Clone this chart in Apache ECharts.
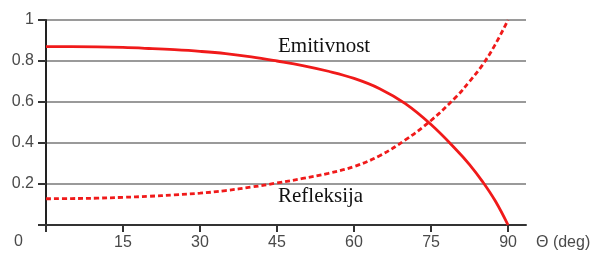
<!DOCTYPE html>
<html>
<head>
<meta charset="utf-8">
<script src="https://cdn.jsdelivr.net/npm/echarts@6/dist/echarts.min.js"></script>
<style>
  html, body { margin: 0; padding: 0; background: #fff; }
  #chart { width: 596px; height: 258px; }
</style>
</head>
<body>
<div id="chart"></div>
<script>
// angle (deg) and values
var angles = [0, 5, 10, 15, 20, 25, 30, 35, 40, 45, 50, 55, 60, 65, 70, 75, 80, 82.5, 85, 87.5, 90];
var emValues = [0.87, 0.87, 0.869, 0.866, 0.861, 0.855, 0.847, 0.836, 0.82, 0.8, 0.778, 0.75, 0.715, 0.665, 0.592, 0.49, 0.365, 0.295, 0.213, 0.118, 0.0];
var refValues = [0.128, 0.129, 0.131, 0.135, 0.14, 0.147, 0.155, 0.168, 0.185, 0.205, 0.227, 0.252, 0.285, 0.338, 0.415, 0.51, 0.628, 0.70, 0.78, 0.88, 1.0];
var xTicks = [0, 15, 30, 45, 60, 75, 90];
var xLabels = [15, 30, 45, 60, 75, 90];
var yTicks = [0, 0.2, 0.4, 0.6, 0.8, 1];
var yLabels = [0.2, 0.4, 0.6, 0.8, 1];

function pairs(xs, ys) {
    var out = [];
    for (var i = 0; i < xs.length; i++) out.push([xs[i], ys[i]]);
    return out;
}

var myChart = echarts.init(document.getElementById('chart'));
var red = '#f01a1a';
var labelFont = { color: '#4a4a4a', fontFamily: 'Liberation Sans, Arial, sans-serif', fontSize: 16 };

var option = {
    animation: false,
    grid: { left: 46, right: 70, top: 20, bottom: 33 },
    xAxis: {
        type: 'value',
        min: 0,
        max: 93.5,
        name: 'Θ (deg)',
        nameLocation: 'end',
        nameGap: 10,
        nameTextStyle: Object.assign({ verticalAlign: 'top', padding: [10, 0, 0, 0] }, labelFont),
        axisLine: { show: true, lineStyle: { color: '#333', width: 2 } },
        axisTick: { show: true, length: 7, customValues: xTicks, lineStyle: { color: '#333', width: 2 } },
        axisLabel: Object.assign({ customValues: xLabels, margin: 10 }, labelFont),
        splitLine: { show: false }
    },
    yAxis: {
        type: 'value',
        min: 0,
        max: 1,
        interval: 0.2,
        axisLine: { show: true, lineStyle: { color: '#222', width: 2 } },
        axisTick: { show: true, length: 8, customValues: yTicks, lineStyle: { color: '#333', width: 2 } },
        axisLabel: Object.assign({ customValues: yLabels, margin: 12 }, labelFont),
        splitLine: { show: true, lineStyle: { color: '#9a9a9a', width: 2 } }
    },
    graphic: [
        { type: 'text', left: 14, top: 234, style: { text: '0', fill: '#4a4a4a', font: '16px Liberation Sans, Arial, sans-serif' } },
        { type: 'text', left: 278, top: 36, style: { text: 'Emitivnost', fill: '#111', font: '21px Liberation Serif, Times New Roman, serif' } },
        { type: 'text', left: 278, top: 186, style: { text: 'Refleksija', fill: '#111', font: '21px Liberation Serif, Times New Roman, serif' } }
    ],
    series: [
        {
            name: 'Emitivnost',
            type: 'line',
            smooth: 0.4,
            showSymbol: false,
            data: pairs(angles, emValues),
            lineStyle: { color: red, width: 2.8 }
        },
        {
            name: 'Refleksija',
            type: 'line',
            smooth: 0.4,
            showSymbol: false,
            data: pairs(angles, refValues),
            lineStyle: { color: red, width: 2.8, type: [5, 3] }
        }
    ]
};
myChart.setOption(option);
</script>
</body>
</html>
